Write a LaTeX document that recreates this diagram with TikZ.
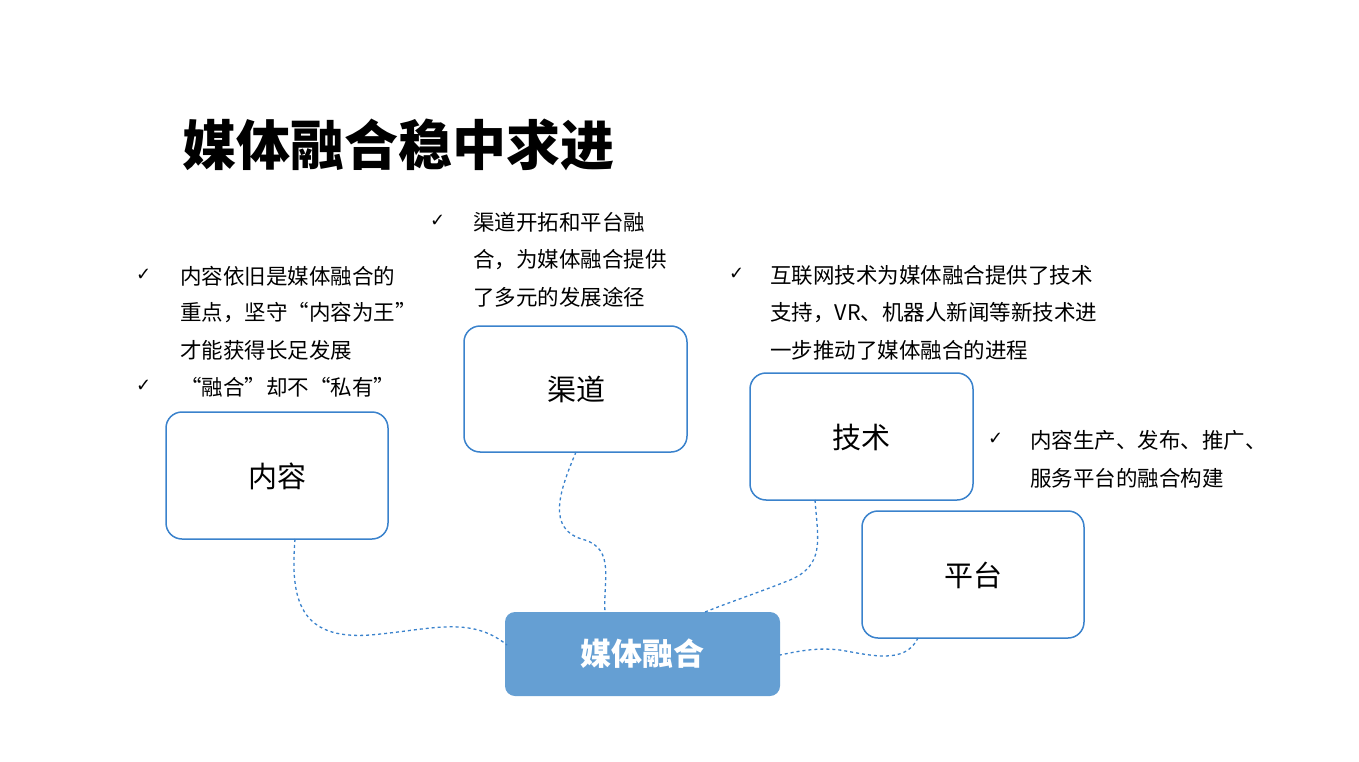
\documentclass[tikz,border=0pt]{standalone}
\usepackage{fontspec}
\setmainfont{Noto Sans CJK SC}
\newfontfamily\symf{DejaVu Sans}
\definecolor{bl}{HTML}{3A82CC}
\definecolor{fillb}{HTML}{659FD3}
\begin{document}
\begin{tikzpicture}[x=1pt,y=-1pt,
 box/.style={draw=bl,line width=1.5pt,rounded corners=16pt,fill=white},
 lbl/.style={font=\fontsize{29}{34}\selectfont},
 txt/.style={anchor=west,inner sep=0pt,font=\fontsize{21.5}{26}\selectfont},
 ck/.style={anchor=west,inner sep=0pt,font=\symf\fontsize{18}{22}\selectfont},
 con/.style={draw=bl,dashed,line width=1.3pt}]
\useasboundingbox (0,0) rectangle (1359,762);
\node[anchor=west,inner sep=0pt,font=\fontsize{54}{60}\selectfont\bfseries] (title) at (182,145) {媒体融合稳中求进};
% boxes
\draw[box] (166,412) rectangle (388,539); \node[lbl] (nr) at (277,476) {内容};
\draw[box] (464,326) rectangle (687,452); \node[lbl] (qd) at (576,389) {渠道};
\draw[box] (750,373) rectangle (973,500); \node[lbl] (js) at (861,437) {技术};
\draw[box] (862,511) rectangle (1084,638); \node[lbl] (pt) at (973,575) {平台};
\draw[fill=fillb,draw=none,rounded corners=10pt] (505,612) rectangle (780,696);
\node[font=\fontsize{31}{36}\selectfont\bfseries,text=white] (mt) at (642,654) {媒体融合};
% connectors
\coordinate (a1) at (295,539); \coordinate (a2) at (507,645);
\draw[con] (a1) .. controls (290,600) and (300,640) .. (370,635) .. controls (430,630) and (470,615) .. (a2);
\coordinate (b1) at (576,452); \coordinate (b2) at (605,612);
\draw[con] (b1) .. controls (560,490) and (545,530) .. (585,540) .. controls (615,550) and (603,580) .. (b2);
\coordinate (c1) at (815,500); \coordinate (c2) at (705,612);
\draw[con] (c1) .. controls (818,540) and (825,565) .. (790,580) .. controls (760,592) and (730,602) .. (c2);
\coordinate (d1) at (918,638); \coordinate (d2) at (780,655);
\draw[con] (d1) .. controls (905,665) and (870,655) .. (840,650) .. controls (815,647) and (795,652) .. (d2);
% bullets left
\node[ck] (k1) at (136,275) {✓};
\node[txt] (t1) at (180,276) {内容依旧是媒体融合的};
\node[txt] (t2) at (180,313) {重点，坚守“内容为王”};
\node[txt] (t3) at (180,350) {才能获得长足发展};
\node[ck] (k2) at (136,386) {✓};
\node[txt] (t4) at (180,387) {“融合”却不“私有”};
% middle
\node[ck] (k3) at (430,221) {✓};
\node[txt] (m1) at (473,222) {渠道开拓和平台融};
\node[txt] (m2) at (473,260) {合，为媒体融合提供};
\node[txt] (m3) at (473,297) {了多元的发展途径};
% right
\node[ck] (k4) at (729,274) {✓};
\node[txt] (r1) at (770,275) {互联网技术为媒体融合提供了技术};
\node[txt] (r2) at (770,313) {支持，VR、机器人新闻等新技术进};
\node[txt] (r3) at (770,350) {一步推动了媒体融合的进程};
% far right
\node[ck] (k5) at (988,439) {✓};
\node[txt] (f1) at (1030,440) {内容生产、发布、推广、};
\node[txt] (f2) at (1030,478) {服务平台的融合构建};
\end{tikzpicture}
\end{document}
